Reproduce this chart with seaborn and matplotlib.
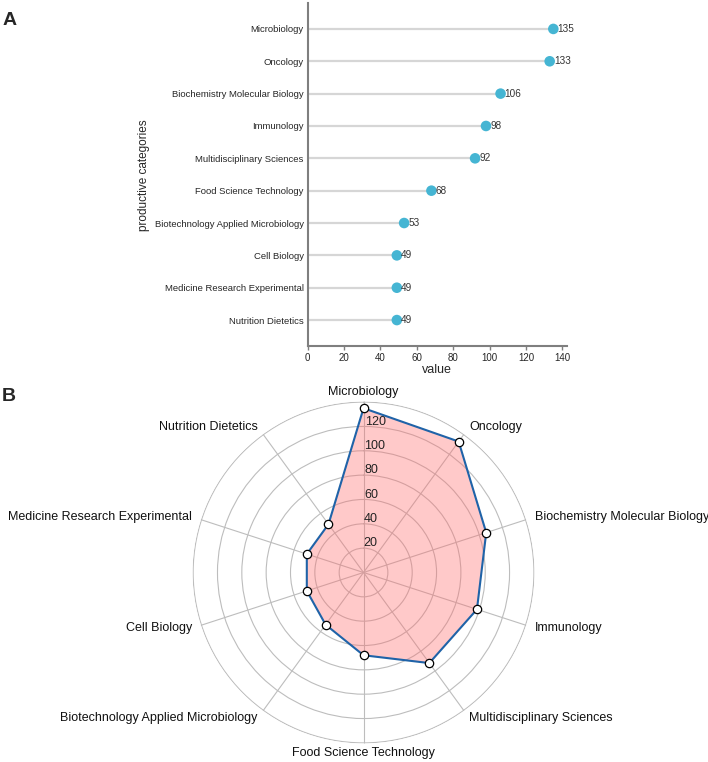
import matplotlib
matplotlib.use('Agg')
import matplotlib.pyplot as plt
import numpy as np
import pandas as pd
import seaborn as sns

sns.set_style('white')
plt.rcParams['font.family'] = ['Liberation Sans', 'DejaVu Sans']

categories = ['Microbiology', 'Oncology', 'Biochemistry Molecular Biology',
              'Immunology', 'Multidisciplinary Sciences', 'Food Science Technology',
              'Biotechnology Applied Microbiology', 'Cell Biology',
              'Medicine Research Experimental', 'Nutrition Dietetics']
counts = [135, 133, 106, 98, 92, 68, 53, 49, 49, 49]
x_ticks = [0, 20, 40, 60, 80, 100, 120, 140]
r_ticks = [20, 40, 60, 80, 100, 120, 140]
r_labels = ['20', '40', '60', '80', '100', '120']

df = pd.DataFrame({'category': categories, 'value': counts})

fig = plt.figure(figsize=(7.08, 7.62), dpi=100)

# ---- panel A : lollipop
ax = fig.add_axes([0.4346, 0.546, 0.3662, 0.450])
ax.hlines(y=df['category'], xmin=0, xmax=df['value'], color='#d6d6d6', lw=1.6, zorder=1)
sns.scatterplot(data=df, x='value', y='category', ax=ax, color='#45b5d3',
                s=58, edgecolor='none', zorder=3, legend=False)
for i, v in enumerate(counts):
    ax.text(v + 2.3, i, str(v), fontsize=7.2, color='#333333', va='center', ha='left')
ax.set_xlim(0, 142.5)
ax.set_ylim(9.8, -0.8)
ax.set_xticks(x_ticks)
ax.tick_params(axis='x', labelsize=7, length=3, width=1, color='#7f7f7f', pad=2,
               bottom=True, direction='out')
ax.tick_params(axis='y', labelsize=6.8, length=0, pad=3)
for s in ['top', 'right']:
    ax.spines[s].set_visible(False)
for s in ['left', 'bottom']:
    ax.spines[s].set_color('#7f7f7f')
    ax.spines[s].set_linewidth(1.5)
ax.set_xlabel('value', fontsize=9, labelpad=1)
ax.set_ylabel('productive categories', fontsize=8.5)
ax.yaxis.set_label_coords(-0.608, 0.4985)
fig.text(0.004, 0.973, 'A', fontsize=14, fontweight='bold', va='center', ha='left')

# ---- panel B : radar
n = len(categories)
angles = np.linspace(0, 2 * np.pi, n, endpoint=False)
ang_c = np.append(angles, angles[0])
val_c = np.append(counts, counts[0])

pax = fig.add_axes([0.2719, 0.0243, 0.4831, 0.4488], projection='polar')
pax.set_theta_zero_location('N')
pax.set_theta_direction(-1)
pax.fill(ang_c, val_c, facecolor='#ff6b6b', alpha=0.36, edgecolor='none', zorder=2)
pax.plot(ang_c, val_c, color='#1f63a8', lw=1.5, zorder=3)
pax.plot(angles, counts, 'o', ms=6, mfc='white', mec='black', mew=0.9, zorder=4)
pax.set_ylim(0, 140.5)
pax.set_yticks(r_ticks)
pax.set_yticklabels([])
pax.set_xticks(angles)
pax.set_xticklabels([])
pax.grid(True, color='#bdbdbd', lw=0.8)
pax.spines['polar'].set_visible(False)
pax.set_axisbelow(True)
for r, lab in zip(r_ticks, r_labels):
    pax.text(np.deg2rad(0.4), r + 4, lab, fontsize=9, ha='left', va='center',
             color='#222222', zorder=5)
for a, lab in zip(angles, categories):
    sx = np.sin(a)
    ha = 'center' if abs(sx) < 0.1 else ('left' if sx > 0 else 'right')
    pax.text(a, 148, lab, fontsize=9, ha=ha, va='center', color='#111111')
fig.text(0.003, 0.480, 'B', fontsize=14, fontweight='bold', va='center', ha='left')

fig.savefig('out.png', dpi=100)
